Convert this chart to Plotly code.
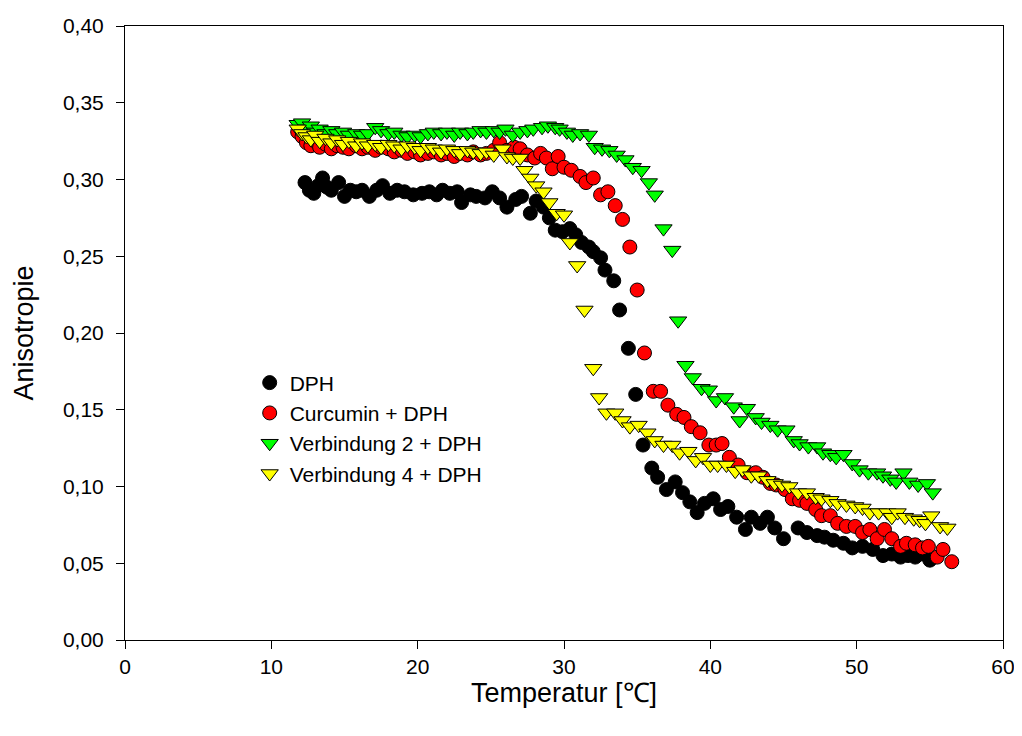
import plotly.graph_objects as go

# ─── Data ───────────────────────────────────────────────────
dph_x = [12.3, 12.6, 12.9, 13.2, 13.5, 13.8, 14.1, 14.6, 15.0, 15.4, 15.8, 16.2, 16.7, 17.2,
         17.6, 18.1, 18.6, 19.1, 19.7, 20.3, 20.8, 21.3, 21.7, 22.2, 22.7, 23.0, 23.6, 24.0,
         24.6, 25.1, 25.6, 26.1, 26.7, 27.1, 27.7, 28.1, 28.6, 29.0, 29.4, 29.9, 30.4, 30.8,
         31.2, 31.7, 32.0, 32.5, 32.8, 33.4, 33.8, 34.4, 34.9, 35.4, 36.0, 36.4, 37.0, 37.6,
         38.1, 38.6, 39.1, 39.6, 40.2, 40.7, 41.2, 41.8, 42.4, 42.8, 43.4, 43.9, 44.4, 45.0,
         46.0, 46.6, 47.3, 47.8, 48.4, 49.1, 49.7, 50.4, 51.1, 51.8, 52.4, 53.0, 53.5, 54.0,
         54.5, 55.0]
dph_y = [0.298, 0.293, 0.291, 0.296, 0.301, 0.295, 0.293, 0.298, 0.289, 0.293, 0.292, 0.293,
         0.289, 0.293, 0.296, 0.291, 0.293, 0.292, 0.290, 0.291, 0.292, 0.290, 0.293, 0.291,
         0.292, 0.285, 0.290, 0.289, 0.288, 0.292, 0.288, 0.282, 0.287, 0.289, 0.278, 0.286,
         0.282, 0.275, 0.267, 0.266, 0.268, 0.264, 0.259, 0.256, 0.253, 0.249, 0.241, 0.234,
         0.215, 0.190, 0.160, 0.127, 0.112, 0.106, 0.098, 0.103, 0.096, 0.090, 0.083, 0.089,
         0.092, 0.085, 0.087, 0.080, 0.072, 0.080, 0.076, 0.080, 0.073, 0.066, 0.073, 0.070,
         0.068, 0.067, 0.065, 0.063, 0.060, 0.061, 0.059, 0.055, 0.056, 0.054, 0.055, 0.054,
         0.056, 0.052]

cur_x = [11.8, 12.1, 12.4, 12.7, 13.0, 13.3, 13.7, 14.1, 14.5, 14.9, 15.3, 15.8, 16.2, 16.6,
         17.1, 17.5, 18.0, 18.4, 18.9, 19.3, 19.8, 20.2, 20.7, 21.1, 21.6, 22.0, 22.5, 22.9,
         23.4, 23.8, 24.3, 24.7, 25.2, 25.6, 26.1, 26.6, 27.0, 27.5, 28.0, 28.4, 28.8, 29.2,
         29.6, 30.0, 30.5, 31.1, 31.5, 32.0, 32.5, 33.0, 33.5, 34.0, 34.5, 35.0, 35.5, 36.1,
         36.6, 37.1, 37.7, 38.2, 38.7, 39.3, 39.9, 40.4, 40.8, 41.3, 41.9, 42.5, 43.1, 43.6,
         44.1, 44.5, 45.1, 45.6, 46.1, 46.6, 47.2, 47.6, 48.2, 48.7, 49.3, 49.9, 50.4, 50.9,
         51.4, 51.9, 52.4, 53.0, 53.4, 54.0, 54.5, 54.9, 55.5, 55.9, 56.5]
cur_y = [0.331, 0.328, 0.324, 0.322, 0.325, 0.321, 0.323, 0.320, 0.322, 0.321, 0.320, 0.322,
         0.320, 0.321, 0.319, 0.321, 0.320, 0.318, 0.319, 0.317, 0.318, 0.316, 0.317, 0.318,
         0.316, 0.317, 0.315, 0.317, 0.316, 0.318, 0.316, 0.317, 0.319, 0.324, 0.319, 0.321,
         0.320, 0.316, 0.314, 0.317, 0.314, 0.307, 0.315, 0.308, 0.306, 0.302, 0.298, 0.301,
         0.290, 0.292, 0.283, 0.274, 0.256, 0.228, 0.187, 0.162, 0.162, 0.153, 0.147, 0.145,
         0.139, 0.135, 0.127, 0.127, 0.128, 0.119, 0.114, 0.109, 0.109, 0.106, 0.102, 0.101,
         0.098, 0.092, 0.091, 0.089, 0.085, 0.081, 0.081, 0.076, 0.074, 0.074, 0.070, 0.072,
         0.066, 0.072, 0.066, 0.061, 0.063, 0.062, 0.060, 0.061, 0.054, 0.059, 0.051]

v2_x = [11.8, 12.1, 12.4, 12.7, 13.0, 13.3, 13.7, 14.1, 14.5, 14.9, 15.3, 15.8, 16.2, 16.6,
        17.1, 17.5, 18.0, 18.4, 18.9, 19.3, 19.8, 20.2, 20.7, 21.1, 21.6, 22.0, 22.5, 22.9,
        23.4, 23.8, 24.3, 24.7, 25.2, 25.6, 26.0, 26.5, 27.0, 27.5, 27.9, 28.5, 28.9, 29.4,
        29.7, 30.2, 30.6, 31.1, 31.7, 32.1, 32.6, 33.1, 33.6, 34.2, 34.7, 35.3, 35.8, 36.2,
        36.8, 37.4, 37.8, 38.3, 38.8, 39.4, 39.9, 40.4, 41.0, 41.6, 42.0, 42.5, 43.1, 43.5,
        44.1, 44.6, 45.2, 45.7, 46.1, 46.7, 47.3, 47.7, 48.2, 48.6, 49.1, 49.7, 50.2, 50.8,
        51.4, 51.8, 52.3, 52.7, 53.2, 53.6, 54.2, 54.8, 55.2]
v2_y = [0.336, 0.337, 0.333, 0.335, 0.331, 0.333, 0.330, 0.332, 0.330, 0.331, 0.329, 0.330,
        0.329, 0.330, 0.334, 0.332, 0.330, 0.331, 0.329, 0.328, 0.329, 0.328, 0.330, 0.331,
        0.330, 0.331, 0.329, 0.331, 0.330, 0.331, 0.332, 0.331, 0.332, 0.331, 0.333, 0.329,
        0.331, 0.332, 0.333, 0.334, 0.335, 0.334, 0.333, 0.331, 0.329, 0.330, 0.329, 0.321,
        0.320, 0.319, 0.316, 0.313, 0.308, 0.306, 0.298, 0.290, 0.268, 0.254, 0.208, 0.179,
        0.171, 0.164, 0.163, 0.156, 0.158, 0.152, 0.143, 0.151, 0.145, 0.142, 0.140, 0.137,
        0.137, 0.130, 0.128, 0.126, 0.126, 0.122, 0.121, 0.119, 0.121, 0.115, 0.111, 0.109,
        0.109, 0.107, 0.105, 0.103, 0.109, 0.103, 0.101, 0.102, 0.096]

v4_x = [11.8, 12.1, 12.4, 12.7, 13.0, 13.3, 13.7, 14.1, 14.5, 14.9, 15.3, 15.8, 16.2, 16.6,
        17.1, 17.5, 18.0, 18.4, 18.9, 19.3, 19.8, 20.2, 20.7, 21.1, 21.6, 22.0, 22.5, 22.9,
        23.4, 23.8, 24.3, 24.7, 25.2, 25.8, 26.1, 26.5, 27.0, 27.3, 27.7, 28.1, 28.6, 29.0,
        29.5, 30.0, 30.4, 30.9, 31.4, 32.0, 32.4, 32.9, 33.5, 34.0, 34.5, 35.1, 35.7, 36.2,
        36.8, 37.4, 37.9, 38.5, 39.0, 39.5, 40.0, 40.5, 41.1, 41.7, 42.2, 42.8, 43.3, 43.9,
        44.4, 44.9, 45.4, 46.0, 46.6, 47.2, 47.6, 48.2, 48.7, 49.3, 49.9, 50.4, 50.9, 51.5,
        52.1, 52.4, 52.8, 53.3, 53.9, 54.3, 54.7, 55.1, 55.7, 56.2]
v4_y = [0.333, 0.330, 0.328, 0.326, 0.329, 0.325, 0.327, 0.324, 0.326, 0.323, 0.325, 0.322,
        0.324, 0.322, 0.323, 0.321, 0.323, 0.322, 0.320, 0.322, 0.321, 0.319, 0.321, 0.320,
        0.318, 0.320, 0.319, 0.317, 0.319, 0.318, 0.317, 0.318, 0.316, 0.320, 0.315, 0.314,
        0.314, 0.306, 0.301, 0.296, 0.292, 0.285, 0.278, 0.277, 0.259, 0.244, 0.215, 0.177,
        0.158, 0.148, 0.148, 0.143, 0.139, 0.140, 0.135, 0.130, 0.127, 0.127, 0.122, 0.123,
        0.117, 0.119, 0.114, 0.114, 0.114, 0.110, 0.111, 0.107, 0.107, 0.104, 0.102, 0.101,
        0.100, 0.096, 0.096, 0.093, 0.092, 0.091, 0.089, 0.088, 0.087, 0.086, 0.083, 0.083,
        0.083, 0.080, 0.083, 0.080, 0.079, 0.078, 0.076, 0.081, 0.074, 0.073]

FONT = "Arial, Liberation Sans, sans-serif"

series = [
    ("DPH", dph_x, dph_y, "circle", "#000000", 14),
    ("Curcumin + DPH", cur_x, cur_y, "circle", "#ff0000", 14),
    ("Verbindung 2 + DPH", v2_x, v2_y, "triangle-down", "#00ff00", 15),
    ("Verbindung 4 + DPH", v4_x, v4_y, "triangle-down", "#ffff00", 15),
]

fig = go.Figure()
for name, xs, ys, sym, col, size in series:
    fig.add_trace(go.Scatter(
        x=xs, y=ys, mode="markers", name=name,
        marker=dict(symbol=sym, size=size, color=col,
                    line=dict(color="#000000", width=1)),
    ))

axis_common = dict(
    showline=True, linecolor="#000000", linewidth=1, mirror=True,
    ticks="outside", ticklen=8, tickcolor="#000000",
    showgrid=False, zeroline=False, automargin=False,
    ticklabeloverflow="allow",
    tickfont=dict(family=FONT, size=21, color="#000000"),
)

# page body has an 8px margin, so the figure is sized to fit inside it
fig.update_layout(
    width=1006, height=720,
    paper_bgcolor="white", plot_bgcolor="white",
    separators=",.",
    margin=dict(l=117, r=11, t=18, b=88),
    xaxis=dict(range=[0, 60], dtick=10, tick0=0,
               title=dict(text="Temperatur [℃]", standoff=2,
                          font=dict(family=FONT, size=27, color="#000000")),
               **axis_common),
    yaxis=dict(range=[0, 0.40], dtick=0.05, tick0=0, tickformat=".2f",
               ticklabelstandoff=8,
               title=dict(text="Anisotropie", standoff=21,
                          font=dict(family=FONT, size=27, color="#000000")),
               **axis_common),
    showlegend=True,
    legend=dict(x=0.142, y=0.452, xanchor="left", yanchor="top",
                bgcolor="rgba(0,0,0,0)", borderwidth=0,
                font=dict(family=FONT, size=21, color="#000000")),
)

fig.write_html("out.html")
